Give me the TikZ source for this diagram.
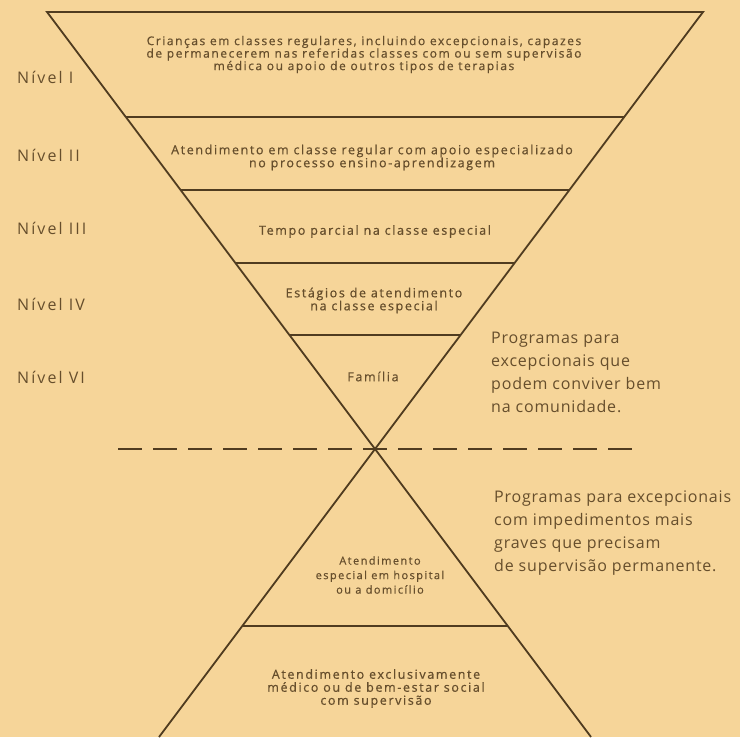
\documentclass[tikz,border=0pt]{standalone}
\usepackage{fontspec}
\setmainfont{Open Sans}
\newfontfamily\stagefont[LetterSpace=13,FakeBold=0.6]{Open Sans}
\newfontfamily\notefont[LetterSpace=5]{Open Sans}
\newfontfamily\lvlfont[LetterSpace=13]{Open Sans}
\usepackage{xcolor}
\usepackage{tikz}
\definecolor{paper}{RGB}{246,213,153}
\definecolor{ink}{RGB}{80,60,32}
\definecolor{txt}{RGB}{102,78,44}

\begin{document}
\begin{tikzpicture}[x=1pt, y=-1pt]
\tikzset{
  ln/.style={draw=ink,line width=1.8pt,line join=miter},
  cut/.style={draw=ink,line width=1.8pt,dash pattern=on 24pt off 11pt},
  stage/.style={align=center,inner sep=0pt,text=txt,font=\stagefont\fontsize{12.5}{13}\selectfont},
  lvl/.style={anchor=base west,inner sep=0pt,text=txt,font=\lvlfont\fontsize{16}{19}\selectfont},
  note/.style={anchor=west,align=left,inner sep=0pt,text=txt,font=\notefont\fontsize{16}{23}\selectfont}
}
% ---- paper
\fill[paper] (0,0) rectangle (740,737);
% ---- corners
\coordinate (tl)   at (47,12);
\coordinate (tr)   at (703,12);
\coordinate (apex) at (375,449);
\coordinate (bl)   at (159,737);
\coordinate (br)   at (591,737);
\coordinate (cutl) at (118,449);
\coordinate (cutr) at (637,449);
% ---- level lines
\coordinate (l1a) at (126,117); \coordinate (l1b) at (624,117);
\coordinate (l2a) at (181,190); \coordinate (l2b) at (569,190);
\coordinate (l3a) at (236,263); \coordinate (l3b) at (514,263);
\coordinate (l4a) at (290,335); \coordinate (l4b) at (460,335);
\coordinate (l5a) at (242,626); \coordinate (l5b) at (508,626);
% ---- triangles
\draw[ln] (tl) -- (tr) -- (apex) -- cycle;
\draw[ln] (bl) -- (apex) -- (br);
\draw[ln] (l1a) -- (l1b);
\draw[ln] (l2a) -- (l2b);
\draw[ln] (l3a) -- (l3b);
\draw[ln] (l4a) -- (l4b);
\draw[ln] (l5a) -- (l5b);
\draw[cut] (cutl) -- (cutr);
% ---- stages
\node[stage,font=\stagefont\fontsize{12}{12.5}\selectfont] (s1) at (364,54.5) {Crianças em classes regulares, incluindo excepcionais, capazes\\ de permanecerem nas referidas classes com ou sem supervisão\\ médica ou  apoio de outros tipos de terapias};
\node[stage] (s2) at (372,157.5) {Atendimento em classe regular com apoio especializado\\ no processo ensino-aprendizagem};
\node[stage] (s3) at (375,231.5) {Tempo parcial na classe especial};
\node[stage] (s4) at (374,300.5) {Estágios de atendimento\\ na classe especial};
\node[stage] (s5) at (373,376.5) {Família};
\node[stage,font=\stagefont\fontsize{11}{14.5}\selectfont] (s6) at (380,575) {Atendimento\\ especial em hospital\\ ou a domicílio};
\node[stage] (s7) at (376,688.5) {Atendimento exclusivamente\\ médico ou de bem-estar social\\ com supervisão};
% ---- levels
\node[lvl] (n1) at (17,84)  {Nível I};
\node[lvl] (n2) at (17,162) {Nível II};
\node[lvl] (n3) at (17,235) {Nível III};
\node[lvl] (n4) at (17,311) {Nível IV};
\node[lvl] (n6) at (17,384) {Nível VI};
% ---- notes
\node[note] (up) at (491,372)   {Programas para\\ excepcionais que\\ podem conviver bem\\ na comunidade.};
\node[note] (dn) at (494,533.5) {Programas para excepcionais\\ com impedimentos mais\\ graves que precisam\\ de supervisão permanente.};
\end{tikzpicture}
\end{document}
